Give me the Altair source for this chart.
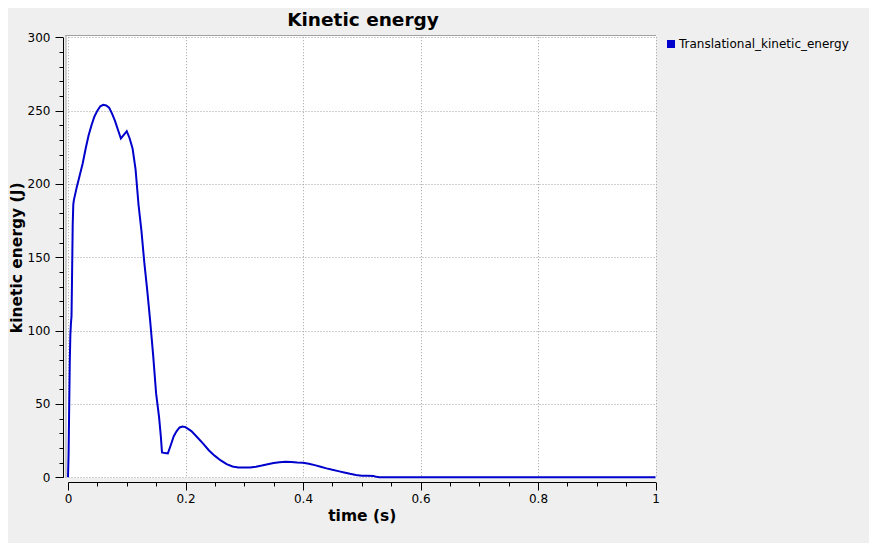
import altair as alt
import pandas as pd

title_text = "Kinetic energy"
x_title = "time (s)"
y_title = "kinetic energy (J)"
series_name = "Translational_kinetic_energy"

time_s = [
    0.000, 0.001, 0.002, 0.003, 0.004, 0.005, 0.006, 0.007, 0.008, 0.009,
    0.010, 0.015, 0.020, 0.025, 0.030, 0.035, 0.040, 0.045, 0.050, 0.055,
    0.060, 0.065, 0.070, 0.075, 0.080, 0.085, 0.090, 0.095, 0.100, 0.105,
    0.110, 0.115, 0.120, 0.125, 0.130, 0.135, 0.140, 0.145, 0.150, 0.155,
    0.158, 0.160, 0.165, 0.170, 0.175, 0.180, 0.185, 0.190, 0.195, 0.200,
    0.210, 0.220, 0.230, 0.240, 0.250, 0.260, 0.270, 0.280, 0.290, 0.300,
    0.310, 0.320, 0.330, 0.340, 0.350, 0.360, 0.370, 0.380, 0.390, 0.400,
    0.410, 0.420, 0.430, 0.440, 0.450, 0.460, 0.470, 0.480, 0.490, 0.500,
    0.510, 0.520, 0.525, 0.530, 0.600, 0.800, 1.000,
]
kinetic_J = [
    0.0, 16.0, 47.0, 78.0, 97.0, 105.0, 110.0, 140.0, 172.0, 186.0,
    189.0, 198.0, 206.0, 214.0, 224.0, 233.0, 240.0, 246.0, 250.0, 253.0,
    254.0, 253.5, 252.0, 248.0, 243.0, 237.0, 231.0, 233.5, 236.0, 231.0,
    224.0, 210.0, 186.0, 168.0, 146.0, 127.0, 106.0, 83.0, 57.0, 41.0,
    28.0, 17.0, 16.5, 16.3, 22.0, 28.0, 31.5, 34.0, 34.6, 34.2,
    31.5, 27.3, 23.0, 18.3, 14.6, 11.5, 9.0, 7.4, 6.7, 6.6,
    6.7, 7.2, 8.0, 8.9, 9.7, 10.3, 10.6, 10.5, 10.1, 9.9,
    9.3, 8.3, 7.2, 6.1, 5.1, 4.2, 3.3, 2.4, 1.6, 1.1,
    1.0, 0.9, 0.3, 0.1, 0.05, 0.05, 0.05,
]

x_ticks = [round(i * 0.05, 2) for i in range(21)]
y_ticks = list(range(0, 301, 10))

df = pd.DataFrame({"t": time_s, "E": kinetic_J, "series": series_name})

W, H = 590, 442
FONT = "DejaVu Sans"
line_color = "#0000cc"
grid_color = "#a0a0a0"
bg = "#efefef"

x_major = "abs(datum.value*5 - round(datum.value*5)) < 0.001"
y_major = "datum.value % 50 === 0"

x_axis = alt.Axis(
    values=x_ticks, format="~g", title=x_title,
    labelExpr=f"({x_major}) ? datum.label : ''",
    tickSize={"expr": f"({x_major}) ? 8 : 4"},
    gridOpacity={"condition": {"test": x_major, "value": 1}, "value": 0},
    grid=True, gridColor=grid_color, gridDash=[1, 2], gridWidth=1,
    offset=4, labelPadding=3, labelFlush=False, labelOverlap=False,
    domainColor="black", tickColor="black", labelColor="black",
    labelFont=FONT, labelFontSize=12,
    titleFont=FONT, titleFontSize=15.5, titleFontWeight="bold",
    titleColor="black", titlePadding=4,
)
y_axis = alt.Axis(
    values=y_ticks, format="d", title=y_title,
    labelExpr=f"({y_major}) ? datum.label : ''",
    tickSize={"expr": f"({y_major}) ? 8 : 4"},
    gridOpacity={"condition": {"test": y_major, "value": 1}, "value": 0},
    grid=True, gridColor=grid_color, gridDash=[1, 2], gridWidth=1,
    offset=3, labelPadding=5, labelOverlap=False,
    domainColor="black", tickColor="black", labelColor="black",
    labelFont=FONT, labelFontSize=12,
    titleFont=FONT, titleFontSize=15.5, titleFontWeight="bold",
    titleColor="black", titlePadding=3,
)

line = alt.Chart(df).mark_line(strokeWidth=2, interpolate="linear").encode(
    x=alt.X("t:Q", scale=alt.Scale(domain=[0, 1], range=[2, 589.5], nice=False, zero=False), axis=x_axis),
    y=alt.Y("E:Q", scale=alt.Scale(domain=[0, 300], range=[441.3, 1.3], nice=False), axis=y_axis),
    color=alt.Color(
        "series:N",
        scale=alt.Scale(domain=[series_name], range=[line_color]),
        legend=alt.Legend(
            orient="none", legendX=599, legendY=2, title=None,
            symbolType="square", symbolSize=64, symbolFillColor=line_color,
            symbolStrokeWidth=0, symbolOpacity=1,
            labelFont=FONT, labelFontSize=12, labelColor="black",
            labelOffset=2, labelLimit=0, padding=0,
        ),
    ),
)

frame_df = pd.DataFrame({"k": [0]})
top_border = alt.Chart(frame_df).mark_rule(color=grid_color, strokeWidth=1).encode(
    x=alt.value(-0.5), x2=alt.value(W), y=alt.value(-0.5)
)
left_border = alt.Chart(frame_df).mark_rule(color=grid_color, strokeWidth=1).encode(
    x=alt.value(0), y=alt.value(-1), y2=alt.value(H)
)

chart = alt.layer(line, top_border, left_border).properties(
    width=W, height=H,
    padding={"left": 58, "top": 28, "right": 213, "bottom": 65},
    autosize=alt.AutoSizeParams(type="none"),
    background=bg,
    title=alt.TitleParams(
        title_text, font=FONT, fontSize=18.5, fontWeight="bold",
        color="black", anchor="middle", offset=2, dx=2,
    ),
).configure_view(stroke=None, fill="white")

chart.save("out.html", embed_options={"renderer": "svg", "actions": False})
